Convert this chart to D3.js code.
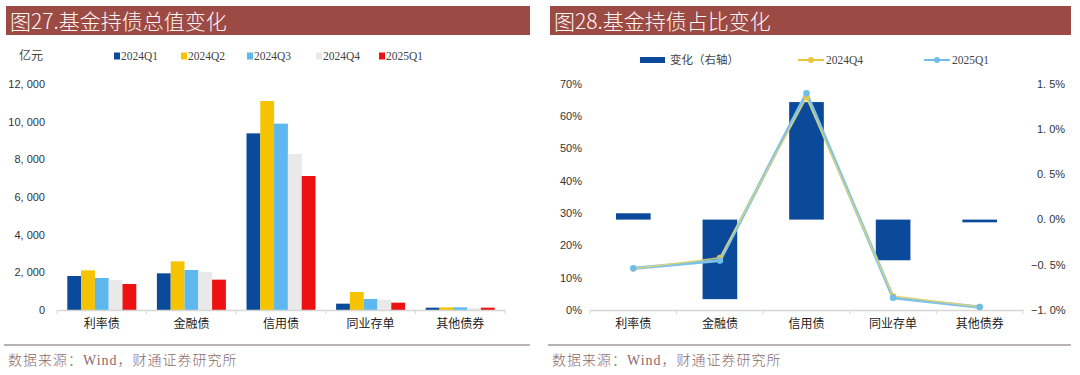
<!DOCTYPE html>
<html>
<head>
<meta charset="utf-8">
<script src="https://cdn.jsdelivr.net/npm/d3@7"></script>
<style>
  body { margin: 0; background: #fff; }
  svg { display: block; }
</style>
</head>
<body>
<svg id="fig" width="1080" height="375"></svg>
<script>
// ---- data ----
const categories = ['利率债', '金融债', '信用债', '同业存单', '其他债券'];
const quarters = ['2024Q1', '2024Q2', '2024Q3', '2024Q4', '2025Q1'];
// 亿元
const q2024Q1 = [1805, 1947, 9380, 336, 124];
const q2024Q2 = [2106, 2584, 11097, 956, 140];
const q2024Q3 = [1700, 2124, 9894, 584, 140];
const q2024Q4 = [1590, 2017, 8283, 530, 100];
const q2025Q1 = [1380, 1611, 7115, 389, 124];
const leftTicks = [0, 2000, 4000, 6000, 8000, 10000, 12000];
// 占比 %
const share2024Q4 = [12.8, 16.2, 65.8, 4.3, 1.0];
const share2025Q1 = [12.9, 15.3, 67.1, 3.8, 0.9];
const shareChange = [0.07, -0.88, 1.30, -0.45, -0.03];
const shareTicks = [0, 10, 20, 30, 40, 50, 60, 70];
const changeTicks = [-1.0, -0.5, 0.0, 0.5, 1.0, 1.5];

const barColors = ['#0b4a9b', '#f5c300', '#5cb8ee', '#e9e9e9', '#ee1111'];
const cjk = '"Noto Sans CJK SC", sans-serif';
const serif = '"Liberation Serif", "Noto Sans CJK SC", serif';
const sans = '"Liberation Sans", Arial, sans-serif';

const svg = d3.select('#fig');

// ---- panel frame (title bar + source) ----
const frame = (x0, w, title) => {
    svg.append('rect').attr('x', x0).attr('y', 6).attr('width', w).attr('height', 29).attr('fill', '#9c4a44');
    svg.append('text').attr('x', x0 + 4).attr('y', 28.5).attr('fill', '#fdf6f4')
        .attr('font-family', cjk).attr('font-size', 21).attr('font-weight', 300).text(title);
    svg.append('line').attr('x1', x0 - 2).attr('x2', x0 + w).attr('y1', 345).attr('y2', 345)
        .attr('stroke', '#a09a9a').attr('stroke-width', 1.6);
    svg.append('text').attr('x', x0 + 2).attr('y', 365).attr('fill', '#8c6a6a')
        .attr('font-family', serif).attr('font-size', 14).attr('font-weight', 300).attr('letter-spacing', 1)
        .text('数据来源：Wind，财通证券研究所');
};
frame(6, 524, '图27.基金持债总值变化');
frame(550, 521, '图28.基金持债占比变化');

// ---- left chart ----
{
    const x0 = 57, x1 = 505, yTop = 84, yBot = 310;
    const series = [q2024Q1, q2024Q2, q2024Q3, q2024Q4, q2025Q1];
    const xScale = d3.scaleBand().domain(categories).range([x0, x1]).paddingInner(0.23).paddingOuter(0.115);
    const xSub = d3.scaleBand().domain(quarters).range([0, xScale.bandwidth()]);
    const yScale = d3.scaleLinear().domain([0, 12000]).range([yBot, yTop]);
    const g = svg.append('g');

    const fmt = d => d3.format(',')(d).replace(',', ', ');
    g.selectAll('.ytick').data(leftTicks).join('text')
        .attr('x', 45).attr('y', d => yScale(d)).attr('dy', '0.35em')
        .attr('text-anchor', 'end').attr('font-family', sans).attr('font-size', 11).attr('fill', '#333')
        .text(fmt);

    quarters.forEach((q, qi) => {
        g.append('g').selectAll('rect').data(series[qi]).join('rect')
            .attr('x', (d, i) => xScale(categories[i]) + xSub(q))
            .attr('width', xSub.bandwidth())
            .attr('y', d => yScale(d))
            .attr('height', d => yBot - yScale(d))
            .attr('fill', barColors[qi]);
    });

    const axis = g.append('g').attr('transform', `translate(0,${yBot})`)
        .call(d3.axisBottom(xScale).tickSize(0).tickPadding(9));
    axis.select('.domain').attr('stroke', '#d6d6d6').attr('stroke-width', 1.5);
    axis.selectAll('text').attr('font-family', cjk).attr('font-size', 12).attr('fill', '#222');
    const step = xScale.step();
    g.selectAll('.bt').data(d3.range(categories.length + 1)).join('line')
        .attr('x1', i => x0 + i * step).attr('x2', i => x0 + i * step)
        .attr('y1', yBot).attr('y2', yBot + 4).attr('stroke', '#d6d6d6');

    // legend
    g.append('text').attr('x', 19).attr('y', 60).attr('font-family', serif).attr('font-size', 12)
        .attr('fill', '#444').text('亿元');
    const lx = [114, 181, 247, 316, 379];
    const lg = g.selectAll('.lg').data(quarters).join('g')
        .attr('transform', (d, i) => `translate(${lx[i]},56)`);
    lg.append('rect').attr('x', 0).attr('y', -3.5).attr('width', 6).attr('height', 7)
        .attr('fill', (d, i) => barColors[i]);
    lg.append('text').attr('x', 7).attr('y', 0).attr('dy', '0.35em')
        .attr('font-family', serif).attr('font-size', 11.5).attr('fill', '#444').text(d => d);
}

// ---- right chart ----
{
    const x0 = 590, x1 = 1023, yTop = 84, yBot = 310;
    const xScale = d3.scaleBand().domain(categories).range([x0, x1]).paddingInner(0.6).paddingOuter(0.3);
    const yLeft = d3.scaleLinear().domain([0, 70]).range([yBot, yTop]);
    const yRight = d3.scaleLinear().domain([-1.0, 1.5]).range([yBot, yTop]);
    const g = svg.append('g');
    const cx = c => xScale(c) + xScale.bandwidth() / 2;

    g.selectAll('.yl').data(shareTicks).join('text')
        .attr('x', 582).attr('y', d => yLeft(d)).attr('dy', '0.35em').attr('text-anchor', 'end')
        .attr('font-family', sans).attr('font-size', 11).attr('fill', '#333').text(d => d + '%');
    const rfmt = d => (d < 0 ? '\u2212' : '') + d3.format('.1f')(Math.abs(d)).replace('.', '. ') + '%';
    g.selectAll('.yr').data(changeTicks).join('text')
        .attr('x', d => d < 0 ? 1031 : 1037).attr('y', d => yRight(d)).attr('dy', '0.35em')
        .attr('font-family', sans).attr('font-size', 11).attr('fill', '#333').text(rfmt);

    g.selectAll('.cb').data(shareChange).join('rect')
        .attr('x', (d, i) => xScale(categories[i]))
        .attr('width', xScale.bandwidth())
        .attr('y', d => yRight(Math.max(0, d)))
        .attr('height', d => Math.abs(yRight(d) - yRight(0)))
        .attr('fill', '#0b4a9b');

    const axis = g.append('g').attr('transform', `translate(0,${yBot})`)
        .call(d3.axisBottom(xScale).tickSize(0).tickPadding(9));
    axis.select('.domain').attr('stroke', '#d6d6d6').attr('stroke-width', 1.5);
    axis.selectAll('text').attr('font-family', cjk).attr('font-size', 12).attr('fill', '#222');
    const step = xScale.step();
    g.selectAll('.bt').data(d3.range(categories.length + 1)).join('line')
        .attr('x1', i => x0 + i * step).attr('x2', i => x0 + i * step)
        .attr('y1', yBot).attr('y2', yBot + 4).attr('stroke', '#d6d6d6');

    const line = d3.line().x((d, i) => cx(categories[i])).y(d => yLeft(d));
    // 2025Q1 underneath, wider
    g.append('path').datum(share2025Q1).attr('d', line).attr('fill', 'none')
        .attr('stroke', '#7cc2ea').attr('stroke-width', 3.2);
    g.append('path').datum(share2024Q4).attr('d', line).attr('fill', 'none')
        .attr('stroke', '#e2d36a').attr('stroke-width', 1.6).attr('opacity', 0.85);
    g.selectAll('.m4').data(share2024Q4).join('circle')
        .attr('cx', (d, i) => cx(categories[i])).attr('cy', d => yLeft(d)).attr('r', 3)
        .attr('fill', '#e8c640');
    g.selectAll('.m1').data(share2025Q1).join('circle')
        .attr('cx', (d, i) => cx(categories[i])).attr('cy', d => yLeft(d)).attr('r', 3.3)
        .attr('fill', '#72bde8');

    // legend
    const lg = g.append('g').attr('transform', 'translate(0,60)');
    lg.append('rect').attr('x', 640).attr('y', -3).attr('width', 25).attr('height', 6).attr('fill', '#0b4a9b');
    lg.append('text').attr('x', 670).attr('y', 0).attr('dy', '0.35em').attr('font-family', serif)
        .attr('font-size', 11.5).attr('fill', '#444').text('变化（右轴）');
    const items = [['2024Q4', '#e8c640', 798], ['2025Q1', '#72bde8', 924]];
    items.forEach(([name, col, x]) => {
        lg.append('line').attr('x1', x).attr('x2', x + 26).attr('y1', 0).attr('y2', 0)
            .attr('stroke', col).attr('stroke-width', 2);
        lg.append('circle').attr('cx', x + 13).attr('cy', 0).attr('r', 3).attr('fill', col);
        lg.append('text').attr('x', x + 28).attr('y', 0).attr('dy', '0.35em').attr('font-family', serif)
            .attr('font-size', 11.5).attr('fill', '#444').text(name);
    });
}
</script>
</body>
</html>
